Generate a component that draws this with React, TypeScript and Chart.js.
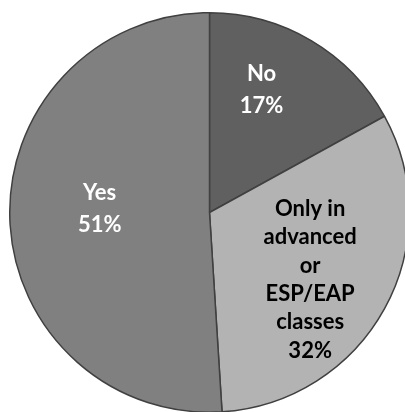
import React, { useEffect, useRef } from "react";
import { Chart, registerables } from "chart.js";

Chart.register(...registerables);

const categories = ["No", "Only in advanced or ESP/EAP classes", "Yes"];
const labelLines = [["No"], ["Only in", "advanced", "or", "ESP/EAP", "classes"], ["Yes"]];
const values = [17, 32, 51];
const colors = ["#606060", "#b3b3b3", "#808080"];
const textColors = ["#ffffff", "#000000", "#ffffff"];
const labelRadius = [0.66, 0.575, 0.55];
const labelShift = [[-15, -9], [0, 12], [0, -7]];
const lineGaps = [32.5, 28.3, 32.5];

const labelPlugin = {
  id: "pieLabels",
  afterDatasetsDraw(chart: any) {
    const ctx = chart.ctx;
    const meta = chart.getDatasetMeta(0);
    const total = values.reduce((a, b) => a + b, 0);
    ctx.save();
    ctx.font = "700 22px Lato";
    ctx.textAlign = "center";
    ctx.textBaseline = "middle";
    meta.data.forEach((arc: any, i: number) => {
      const { x, y, startAngle, endAngle, outerRadius } = arc.getProps(
        ["x", "y", "startAngle", "endAngle", "outerRadius"],
        true
      );
      const mid = (startAngle + endAngle) / 2;
      const d = outerRadius * labelRadius[i];
      const cx = x + Math.cos(mid) * d + labelShift[i][0];
      const cy = y + Math.sin(mid) * d + labelShift[i][1];
      const lines = [...labelLines[i], Math.round((values[i] / total) * 100) + "%"];
      const gap = lineGaps[i];
      const top = cy - ((lines.length - 1) * gap) / 2;
      ctx.fillStyle = textColors[i];
      lines.forEach((t, j) => ctx.fillText(t, cx, top + j * gap));
    });
    ctx.restore();
  },
};

export default function App() {
  const ref = useRef<HTMLCanvasElement>(null);
  useEffect(() => {
    if (!ref.current) return;
    const chart = new Chart(ref.current, {
      type: "pie",
      data: {
        labels: categories,
        datasets: [
          {
            data: values,
            backgroundColor: colors,
            borderColor: "#404040",
            borderWidth: 1.5,
          },
        ],
      },
      options: {
        animation: false,
        responsive: false,
        maintainAspectRatio: false,
        layout: { padding: 0 },
        plugins: {
          legend: { display: false },
          tooltip: { enabled: false },
        },
      },
      plugins: [labelPlugin],
    });
    return () => chart.destroy();
  }, []);
  return (
    <div
      style={{
        position: "absolute",
        left: 0,
        top: 0,
        width: 405,
        height: 412,
        overflow: "hidden",
        background: "#ffffff",
      }}
    >
      <canvas
        ref={ref}
        width={401}
        height={401}
        style={{ position: "absolute", left: 9, top: 12, width: 401, height: 401 }}
      />
    </div>
  );
}
